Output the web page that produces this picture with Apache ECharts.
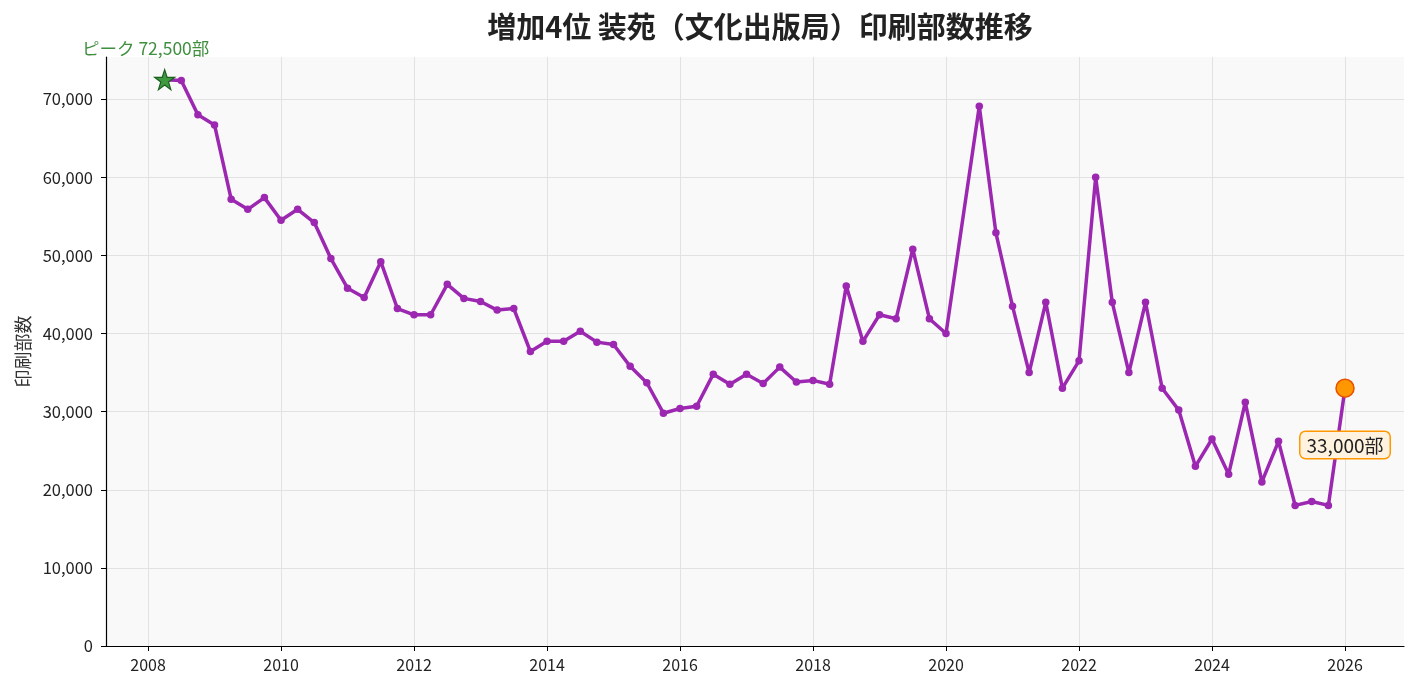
<!DOCTYPE html>
<html>

<head>
    <meta charset="utf-8" />
    <title>装苑 印刷部数推移</title>
    <script src="https://cdn.jsdelivr.net/npm/echarts@6/dist/echarts.min.js"></script>
    <style type="text/css">
        body {
            margin: 0;
            padding: 0;
            background-color: #ffffff;
            overflow: hidden;
        }

        #main {
            width: 1417px;
            height: 689px;
        }
    </style>
</head>

<body>
    <div id="main"></div>
    <script type="text/javascript">
        // 四半期ごとの日付（2020-04 は欠測）
        var quarters = [
            '2008-04', '2008-07', '2008-10',
            '2009-01', '2009-04', '2009-07', '2009-10',
            '2010-01', '2010-04', '2010-07', '2010-10',
            '2011-01', '2011-04', '2011-07', '2011-10',
            '2012-01', '2012-04', '2012-07', '2012-10',
            '2013-01', '2013-04', '2013-07', '2013-10',
            '2014-01', '2014-04', '2014-07', '2014-10',
            '2015-01', '2015-04', '2015-07', '2015-10',
            '2016-01', '2016-04', '2016-07', '2016-10',
            '2017-01', '2017-04', '2017-07', '2017-10',
            '2018-01', '2018-04', '2018-07', '2018-10',
            '2019-01', '2019-04', '2019-07', '2019-10',
            '2020-01', '2020-07', '2020-10',
            '2021-01', '2021-04', '2021-07', '2021-10',
            '2022-01', '2022-04', '2022-07', '2022-10',
            '2023-01', '2023-04', '2023-07', '2023-10',
            '2024-01', '2024-04', '2024-07', '2024-10',
            '2025-01', '2025-04', '2025-07', '2025-10',
            '2026-01'
        ];
        // 印刷部数
        var copies = [
            72500, 72400, 68000,
            66700, 57200, 55900, 57400,
            54500, 55900, 54200, 49600,
            45800, 44600, 49200, 43200,
            42400, 42400, 46300, 44500,
            44100, 43000, 43200, 37700,
            39000, 39000, 40300, 38900,
            38600, 35800, 33700, 29800,
            30400, 30700, 34800, 33500,
            34800, 33600, 35700, 33800,
            34000, 33500, 46100, 39000,
            42400, 41900, 50800, 41900,
            40000, 69100, 52900,
            43500, 35000, 44000, 33000,
            36500, 60000, 44000, 35000,
            44000, 33000, 30200, 23000,
            26500, 22000, 31200, 21000,
            26200, 18000, 18500, 18000,
            33000
        ];
        // 目盛り
        var yearTicks = [2008, 2010, 2012, 2014, 2016, 2018, 2020, 2022, 2024, 2026];
        var copyTicks = [0, 10000, 20000, 30000, 40000, 50000, 60000, 70000];

        var FONT = "'Noto Sans CJK JP', 'Noto Sans', sans-serif";
        var STAR = 'path://M50,2 L61.8,37.6 L99,37.6 L68.9,59.6 L80.3,95.1 L50,73.2 L19.7,95.1 L31.1,59.6 L1,37.6 L38.2,37.6 Z';

        // 'YYYY-MM' を小数年に変換
        function toYear(s) {
            var p = s.split('-');
            return Number(p[0]) + (Number(p[1]) - 1) / 12;
        }
        function fmt(n) {
            return n.toLocaleString('en-US');
        }

        var points = quarters.map(function (q, i) { return [toYear(q), copies[i]]; });
        var peakIdx = copies.indexOf(Math.max.apply(null, copies));
        var lastIdx = copies.length - 1;

        var myChart = echarts.init(document.getElementById('main'));
        var option = {
            animation: false,
            textStyle: { fontFamily: FONT },
            title: {
                text: '増加4位 装苑（文化出版局）印刷部数推移',
                left: 755,
                top: 7,
                textAlign: 'center',
                textStyle: { fontFamily: FONT, fontSize: 29, fontWeight: 'bold', color: '#222' }
            },
            grid: {
                left: 106, right: 13, top: 57, bottom: 43,
                show: true, backgroundColor: '#f9f9f9', borderWidth: 0
            },
            xAxis: {
                type: 'value',
                min: 2007.368,
                max: 2026.887,
                axisLine: { show: true, onZero: false, lineStyle: { color: '#000', width: 1.2 } },
                axisTick: { show: true, length: 5, customValues: yearTicks, lineStyle: { color: '#000' } },
                axisLabel: {
                    customValues: yearTicks, margin: 11, fontSize: 16, color: '#222', fontFamily: FONT,
                    formatter: function (v) { return String(Math.round(v)); }
                },
                splitLine: { show: true, lineStyle: { color: '#e2e2e2', width: 1 } }
            },
            yAxis: {
                type: 'value',
                min: 0,
                max: 75400,
                name: '印刷部数',
                nameLocation: 'middle',
                nameGap: 73,
                nameTextStyle: { fontSize: 18, color: '#333', fontFamily: FONT },
                axisLine: { show: true, lineStyle: { color: '#000', width: 1.2 } },
                axisTick: { show: true, length: 5, customValues: copyTicks, lineStyle: { color: '#000' } },
                axisLabel: { customValues: copyTicks, margin: 13, fontSize: 16.5, color: '#222', fontFamily: FONT },
                splitLine: { show: true, lineStyle: { color: '#e2e2e2', width: 1 } }
            },
            series: [
                {
                    type: 'line',
                    data: points,
                    symbol: 'circle',
                    symbolSize: 7.5,
                    lineStyle: { color: '#9c27b0', width: 3.5 },
                    itemStyle: { color: '#9c27b0' },
                    z: 3
                },
                {
                    type: 'scatter',
                    data: [points[peakIdx]],
                    symbol: STAR,
                    symbolSize: 20,
                    itemStyle: { color: '#3f9a3f', borderColor: '#1b5e20', borderWidth: 1.2, opacity: 1 },
                    label: {
                        show: true, position: 'top', distance: 12, offset: [-19, 0],
                        formatter: 'ピーク ' + fmt(copies[peakIdx]) + '部',
                        fontSize: 17.5, color: '#3f8f3f', fontFamily: FONT
                    },
                    z: 5
                },
                {
                    type: 'scatter',
                    data: [points[lastIdx]],
                    symbol: 'circle',
                    symbolSize: 18,
                    itemStyle: { color: '#ff9800', borderColor: '#e65100', borderWidth: 1.5, opacity: 1 },
                    label: {
                        show: true, position: 'bottom', distance: 34,
                        formatter: fmt(copies[lastIdx]) + '部',
                        fontSize: 19, color: '#222', fontFamily: FONT,
                        backgroundColor: '#fff3e0', borderColor: '#ff9800', borderWidth: 1.5,
                        borderRadius: 5, padding: [4, 6, 3, 6]
                    },
                    z: 6
                }
            ]
        };
        myChart.setOption(option);
    </script>
</body>

</html>
